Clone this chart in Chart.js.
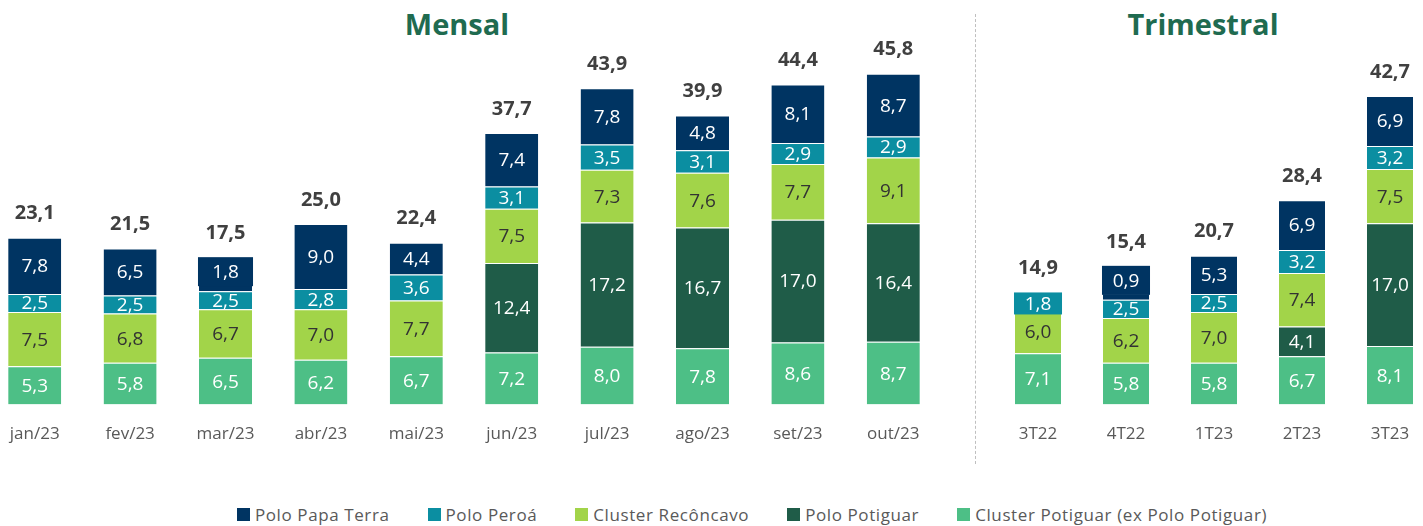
<!DOCTYPE html>
<html>
<head>
<meta charset="utf-8">
<script src="https://cdn.jsdelivr.net/npm/chart.js@4/dist/chart.umd.min.js"></script>
<style>
  body { margin: 0; background: #fff; width: 1423px; height: 526px; overflow: hidden; position: relative; font-family: 'Open Sans', sans-serif; }
  canvas { position: absolute; top: 0; }
  #c-mensal { left: -13px; }
  #c-trim { left: 994px; }
  .title { position: absolute; top: 4px; font-weight: bold; font-size: 29px; color: #1f6b50; transform: translateX(-50%); white-space: nowrap; }
  .divider { position: absolute; left: 975px; top: 14px; height: 450px; border-left: 1px dashed #bfbfbf; }
  .legend { position: absolute; left: 0; width: 1504px; top: 503px; display: flex; justify-content: center; gap: 38px; font-size: 17px; letter-spacing: 0.6px; color: #595959; }
  .legend span { display: flex; align-items: center; white-space: nowrap; }
  .legend i { display: inline-block; width: 13px; height: 13px; margin-right: 5px; }
</style>
</head>
<body>
<div class="title" style="left:457px">Mensal</div>
<div class="title" style="left:1203px">Trimestral</div>
<div class="divider"></div>
<canvas id="c-mensal" width="954" height="455"></canvas>
<canvas id="c-trim" width="440" height="455"></canvas>
<div class="legend" id="legend"></div>
<script>
// monthly
const months = ['jan/23', 'fev/23', 'mar/23', 'abr/23', 'mai/23', 'jun/23', 'jul/23', 'ago/23', 'set/23', 'out/23'];
const mClusterPotiguar = [5.3, 5.8, 6.5, 6.2, 6.7, 7.2, 8.0, 7.8, 8.6, 8.7];
const mPoloPotiguar = [null, null, null, null, null, 12.4, 17.2, 16.7, 17.0, 16.4];
const mReconcavo = [7.5, 6.8, 6.7, 7.0, 7.7, 7.5, 7.3, 7.6, 7.7, 9.1];
const mPeroa = [2.5, 2.5, 2.5, 2.8, 3.6, 3.1, 3.5, 3.1, 2.9, 2.9];
const mPapaTerra = [7.8, 6.5, 1.8, 9.0, 4.4, 7.4, 7.8, 4.8, 8.1, 8.7];
const mTotals = [23.1, 21.5, 17.5, 25.0, 22.4, 37.7, 43.9, 39.9, 44.4, 45.8];

// quarterly
const quarters = ['3T22', '4T22', '1T23', '2T23', '3T23'];
const qClusterPotiguar = [7.1, 5.8, 5.8, 6.7, 8.1];
const qPoloPotiguar = [null, null, null, 4.1, 17.0];
const qReconcavo = [6.0, 6.2, 7.0, 7.4, 7.5];
const qPeroa = [1.8, 2.5, 2.5, 3.2, 3.2];
const qPapaTerra = [null, 0.9, 5.3, 6.9, 6.9];
const qTotals = [14.9, 15.4, 20.7, 28.4, 42.7];

const series = [
  {label: 'Cluster Potiguar (ex Polo Potiguar)', color: '#4dbf86', text: '#fff'},
  {label: 'Polo Potiguar', color: '#1f5c48', text: '#fff'},
  {label: 'Cluster Recôncavo', color: '#a2d449', text: '#333'},
  {label: 'Polo Peroá', color: '#0b8ea1', text: '#fff', boxUp: false},
  {label: 'Polo Papa Terra', color: '#003462', text: '#fff', boxUp: true}
];

const fmt = v => v.toFixed(1).replace('.', ',');

const segLabels = {
  id: 'segLabels',
  afterDatasetsDraw(chart, args, opts) {
    const ctx = chart.ctx;
    ctx.save();
    ctx.textAlign = 'center';
    ctx.textBaseline = 'middle';
    chart.data.labels.forEach((lab, i) => {
      let top = Infinity;
      let x = 0;
      chart.data.datasets.forEach((ds, di) => {
        const v = ds.data[i];
        const el = chart.getDatasetMeta(di).data[i];
        if (!v || !el) return;
        x = el.x;
        let cy = (el.base + el.y) / 2;
        top = Math.min(top, el.y);
        // small segments get a label box like the original
        if (el.base - el.y < 15) {
          const bw = el.width + 2;
          let bh, by;
          if (ds.boxUp) { bh = 29; by = el.base - 5 - bh; }
          else { bh = 22; by = cy - bh / 2; }
          ctx.fillStyle = ds.backgroundColor;
          ctx.fillRect(x - bw / 2, by, bw, bh);
          cy = by + bh / 2;
          top = Math.min(top, by);
        }
        ctx.fillStyle = ds.textColor;
        ctx.font = '19px "Open Sans"';
        ctx.fillText(fmt(v), x, cy + 1);
      });
      ctx.fillStyle = '#404040';
      ctx.font = 'bold 20px "Open Sans"';
      ctx.fillText(fmt(opts.totals[i]), x, top - 24);
    });
    ctx.restore();
  }
};

function makeChart(id, labels, data, totals, barPct) {
  return new Chart(id, {
    type: 'bar',
    data: {
      labels: labels,
      datasets: series.map((s, k) => ({
        label: s.label,
        data: data[k],
        backgroundColor: s.color,
        textColor: s.text,
        boxUp: s.boxUp,
        borderColor: 'rgba(255,255,255,0.7)',
        borderWidth: {top: 1, right: 0, bottom: 0, left: 0},
        borderSkipped: false,
        barPercentage: barPct,
        categoryPercentage: 1
      }))
    },
    options: {
      responsive: false,
      animation: false,
      layout: {padding: 0},
      scales: {
        x: {
          stacked: true,
          grid: {display: false},
          border: {display: false},
          ticks: {color: '#595959', font: {size: 17, family: 'Open Sans'}, padding: 11}
        },
        y: {
          stacked: true,
          display: false,
          min: 0,
          max: 56
        }
      },
      plugins: {
        legend: {display: false},
        tooltip: {enabled: false},
        segLabels: {totals: totals}
      }
    },
    plugins: [segLabels]
  });
}

makeChart('c-mensal', months, [mClusterPotiguar, mPoloPotiguar, mReconcavo, mPeroa, mPapaTerra], mTotals, 0.556);
makeChart('c-trim', quarters, [qClusterPotiguar, qPoloPotiguar, qReconcavo, qPeroa, qPapaTerra], qTotals, 0.523);

// legend in the same order as the original
const legend = document.getElementById('legend');
series.slice().reverse().forEach(s => {
  const item = document.createElement('span');
  item.innerHTML = '<i style="background:' + s.color + '"></i>' + s.label;
  legend.appendChild(item);
});
</script>
</body>
</html>
